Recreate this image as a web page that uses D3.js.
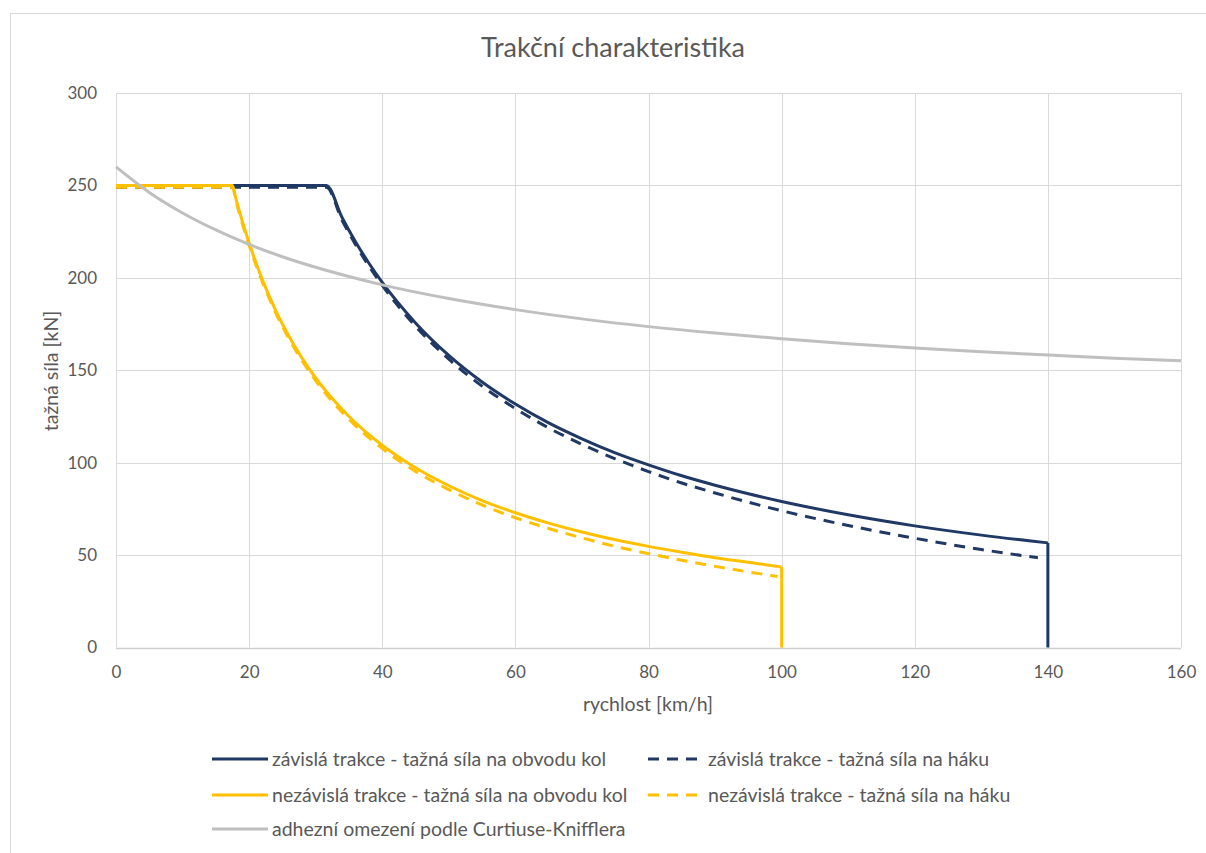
<!DOCTYPE html>
<html>
<head>
<meta charset="utf-8">
<script src="https://cdn.jsdelivr.net/npm/d3@7"></script>
<style>
  html, body { margin: 0; padding: 0; background: #ffffff; }
  svg { display: block; font-family: Lato, "Noto Sans", sans-serif; }
</style>
</head>
<body>
<svg id="chart" width="1206" height="853"></svg>
<script>
// ---- data ----
const title = "Trakční charakteristika";
const xTitle = "rychlost [km/h]";
const yTitle = "tažná síla [kN]";
const xTicks = [0, 20, 40, 60, 80, 100, 120, 140, 160];
const yTicks = [0, 50, 100, 150, 200, 250, 300];

// závislá trakce - tažná síla na obvodu kol
const depWheelV = [0, 31.6, 34, 36, 38, 40, 45, 50, 55, 60, 65, 70, 75, 80, 85, 90, 95, 100, 110, 120, 130, 140, 140];
const depWheelF = [250, 250, 232.4, 219.4, 207.9, 197.5, 175.6, 158, 143.6, 131.7, 121.5, 112.9, 105.3, 98.8, 92.9, 87.8, 83.2, 79, 71.8, 65.8, 60.8, 56.6, 0];

// závislá trakce - tažná síla na háku
const depHookV = [0, 31.6, 34, 36, 38, 40, 45, 50, 55, 60, 65, 70, 75, 80, 85, 90, 95, 100, 110, 120, 130, 138.5];
const depHookF = [249, 249, 230.9, 217.9, 206.3, 195.9, 173.8, 156, 141.4, 129.3, 118.8, 109.9, 102.1, 95.2, 89.0, 83.6, 78.6, 74.0, 66.0, 59.1, 53.0, 48.6];

// nezávislá trakce - tažná síla na obvodu kol
const indWheelV = [0, 17.5, 18, 19, 20, 22, 24, 26, 28, 30, 32, 35, 40, 45, 50, 55, 60, 65, 70, 75, 80, 85, 90, 95, 100, 100];
const indWheelF = [250, 250, 243, 230.3, 218.8, 198.9, 182.3, 168.3, 156.3, 145.8, 136.7, 125, 109.4, 97.2, 87.5, 79.5, 72.9, 67.3, 62.5, 58.3, 54.7, 51.5, 48.6, 46.1, 43.5, 0];

// nezávislá trakce - tažná síla na háku
const indHookV = [0, 17.5, 18, 19, 20, 22, 24, 26, 28, 30, 32, 35, 40, 45, 50, 55, 60, 65, 70, 75, 80, 85, 90, 95, 99.4];
const indHookF = [249, 249, 241.9, 229.1, 217.6, 197.7, 181.0, 167.0, 154.9, 144.4, 135.2, 123.4, 107.7, 95.3, 85.4, 77.1, 70.2, 64.4, 59.3, 54.7, 50.8, 47.2, 43.9, 40.9, 38.4];

// adhezní omezení podle Curtiuse-Knifflera
const adhV = [0, 5, 10, 15, 20, 25, 30, 35, 40, 50, 60, 70, 80, 90, 100, 110, 120, 130, 140, 150, 160];
const adhF = [260, 246.2, 235.1, 225.9, 218.1, 211.4, 205.7, 200.7, 196.2, 188.8, 182.8, 177.8, 173.6, 170.1, 167.1, 164.4, 162.1, 160.0, 158.2, 156.5, 155.1];

const seriesNames = [
  "závislá trakce - tažná síla na obvodu kol",
  "závislá trakce - tažná síla na háku",
  "nezávislá trakce - tažná síla na obvodu kol",
  "nezávislá trakce - tažná síla na háku",
  "adhezní omezení podle Curtiuse-Knifflera"
];

// ---- build series ----
const NAVY = "#1f3864", GOLD = "#ffc000", GREY = "#bfbfbf";
const zip = (v, f) => v.map((x, i) => ({ x, y: f[i] }));
const series = [
  { name: seriesNames[0], pts: zip(depWheelV, depWheelF), color: NAVY, dash: null, w: 3 },
  { name: seriesNames[1], pts: zip(depHookV, depHookF), color: NAVY, dash: "11,8", w: 3 },
  { name: seriesNames[2], pts: zip(indWheelV, indWheelF), color: GOLD, dash: null, w: 3 },
  { name: seriesNames[3], pts: zip(indHookV, indHookF), color: GOLD, dash: "11,8", w: 3 },
  { name: seriesNames[4], pts: zip(adhV, adhF), color: GREY, dash: null, w: 3 }
];

// ---- layout ----
const svg = d3.select("#chart");
const plot = { left: 116, right: 1181, top: 93, bottom: 647.5 };
const x = d3.scaleLinear().domain([0, 160]).range([plot.left, plot.right]);
const y = d3.scaleLinear().domain([0, 300]).range([plot.bottom, plot.top]);

// outer chart border
svg.append("rect").attr("x", 10.5).attr("y", 13.5).attr("width", 1210).attr("height", 860)
  .attr("fill", "#fff").attr("stroke", "#d9d9d9").attr("stroke-width", 1);

// title
svg.append("text").attr("x", 613).attr("y", 57).attr("text-anchor", "middle")
  .attr("fill", "#595959").attr("font-size", 27).text(title);

// grid
const grid = svg.append("g");
grid.selectAll("line.h").data(yTicks).join("line")
  .attr("x1", plot.left).attr("x2", plot.right)
  .attr("y1", d => Math.round(y(d)) + 0.5).attr("y2", d => Math.round(y(d)) + 0.5)
  .attr("stroke", d => d === 0 ? "#d0d0d0" : "#d9d9d9").attr("stroke-width", d => d === 0 ? 1.5 : 1);
grid.selectAll("line.v").data(xTicks).join("line")
  .attr("y1", plot.top).attr("y2", plot.bottom)
  .attr("x1", d => Math.round(x(d)) + 0.5).attr("x2", d => Math.round(x(d)) + 0.5)
  .attr("stroke", "#d9d9d9").attr("stroke-width", 1);

// axes (labels only, via d3 axes)
const xAxis = svg.append("g").attr("transform", `translate(0,${plot.bottom})`)
  .call(d3.axisBottom(x).tickValues(xTicks).tickSize(0).tickPadding(18).tickFormat(d3.format("d")));
const yAxis = svg.append("g").attr("transform", `translate(${plot.left},0)`)
  .call(d3.axisLeft(y).tickValues(yTicks).tickSize(0).tickPadding(19).tickFormat(d3.format("d")));
[xAxis, yAxis].forEach(a => {
  a.select(".domain").remove();
  a.selectAll("text").attr("fill", "#595959").attr("font-size", 17).attr("font-family", "Lato, sans-serif");
});

// axis titles
svg.append("text").attr("x", 648).attr("y", 711).attr("text-anchor", "middle")
  .attr("fill", "#595959").attr("font-size", 19.5).text(xTitle);
svg.append("text").attr("transform", "translate(58,371) rotate(-90)").attr("text-anchor", "middle")
  .attr("fill", "#595959").attr("font-size", 19.5).text(yTitle);

// lines
const line = d3.line().x(d => x(d.x)).y(d => y(d.y)).curve(d3.curveMonotoneX);
const lineStraight = d3.line().x(d => x(d.x)).y(d => y(d.y)).curve(d3.curveLinear);
const lg = svg.append("g");
series.forEach(s => {
  const pts = s.pts;
  const last = pts[pts.length - 1], prev = pts[pts.length - 2];
  let curvePts = pts, tail = null;
  if (prev && prev.x === last.x) { curvePts = pts.slice(0, -1); tail = [prev, last]; }
  lg.append("path").attr("d", line(curvePts)).attr("fill", "none")
    .attr("stroke", s.color).attr("stroke-width", s.w)
    .attr("stroke-dasharray", s.dash).attr("stroke-linejoin", "round");
  if (tail) lg.append("path").attr("d", lineStraight(tail)).attr("fill", "none")
    .attr("stroke", s.color).attr("stroke-width", s.w);
});

// legend
const legendPos = [
  { lx: 212, ty: 759 }, { lx: 648, ty: 759 },
  { lx: 212, ty: 795 }, { lx: 648, ty: 795 },
  { lx: 212, ty: 829 }
];
const leg = svg.append("g");
series.forEach((s, i) => {
  const p = legendPos[i];
  leg.append("line").attr("x1", p.lx).attr("x2", p.lx + 56).attr("y1", p.ty).attr("y2", p.ty)
    .attr("stroke", s.color).attr("stroke-width", 3).attr("stroke-dasharray", s.dash ? "11,8" : null);
  leg.append("text").attr("x", p.lx + 60).attr("y", p.ty + 6.5).attr("fill", "#595959")
    .attr("font-size", 19.5).text(s.name);
});
</script>
</body>
</html>
